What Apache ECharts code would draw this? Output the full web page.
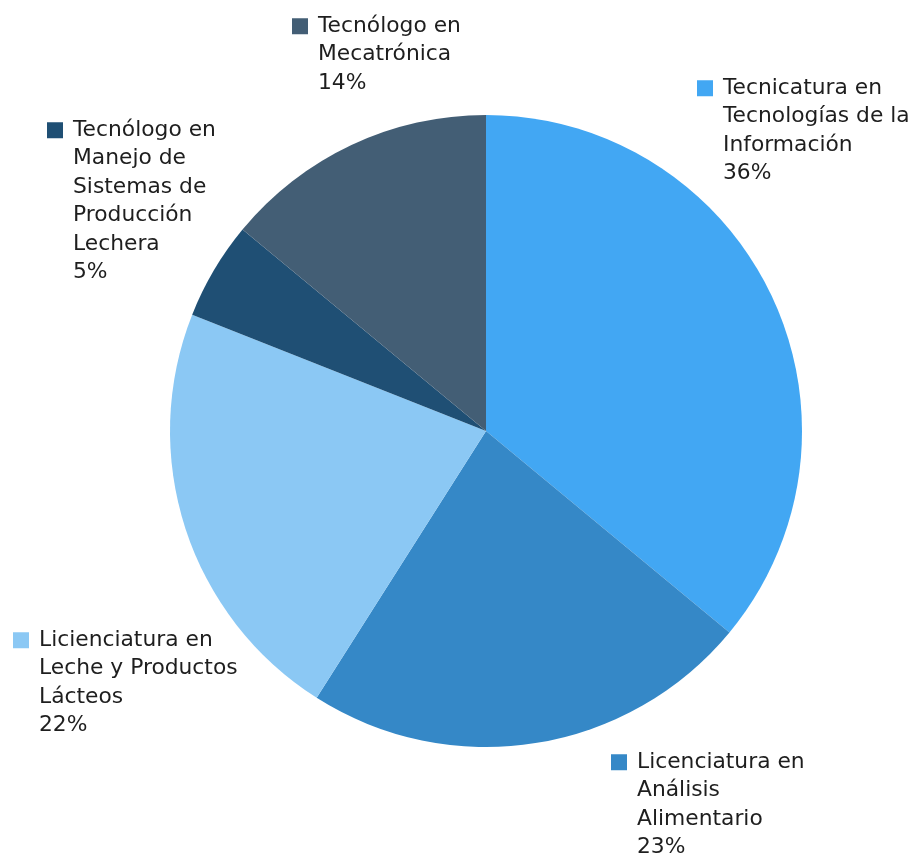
<!DOCTYPE html>
<html>
<head>
<meta charset="utf-8">
<script src="https://cdn.jsdelivr.net/npm/echarts@6/dist/echarts.min.js"></script>
<style>
  html, body { margin: 0; padding: 0; background: #fff; }
  #chart { width: 911px; height: 857px; }
</style>
</head>
<body>
<div id="chart"></div>
<script>
// datos
var categories = [
  'Tecnicatura en\nTecnologías de la\nInformación',
  'Licenciatura en\nAnálisis\nAlimentario',
  'Licienciatura en\nLeche y Productos\nLácteos',
  'Tecnólogo en\nManejo de\nSistemas de\nProducción\nLechera',
  'Tecnólogo en\nMecatrónica'
];
var values = [36, 23, 22, 5, 14];
var colors = ['#42a7f3', '#3588c7', '#8bc8f4', '#1f4f74', '#435e75'];

// posicion de cada etiqueta (esquina sup. izq.)
var labelPos = [[697, 74], [611, 748], [13, 626], [47, 116], [292, 12]];

var chart = echarts.init(document.getElementById('chart'));

var rich = {
  t: { fontFamily: 'DejaVu Sans', fontSize: 21.8, color: '#1e1e1e', lineHeight: 28.5 },
  g: { width: 10, lineHeight: 28.5 },
  sp: { width: 26, lineHeight: 28.5 }
};
colors.forEach(function (c, i) {
  rich['sq' + i] = { width: 16, height: 16, backgroundColor: c, lineHeight: 28.5 };
});

var data = categories.map(function (name, i) {
  return { name: name, value: values[i], itemStyle: { color: colors[i] } };
});

chart.setOption({
  animation: false,
  series: [{
    type: 'pie',
    center: [486, 431],
    radius: 316,
    startAngle: 90,
    clockwise: true,
    avoidLabelOverlap: false,
    data: data,
    itemStyle: { borderWidth: 0 },
    label: {
      show: true,
      position: 'outside',
      formatter: function (p) {
        var lines = p.name.split('\n');
        lines.push(p.value + '%');
        return lines.map(function (l, k) {
          return (k === 0 ? '{sq' + p.dataIndex + '|}{g|}' : '{sp|}') + '{t|' + l + '}';
        }).join('\n');
      },
      rich: rich
    },
    labelLine: { show: false },
    labelLayout: function (params) {
      var pos = labelPos[params.dataIndex];
      return { x: pos[0], y: pos[1], align: 'left', verticalAlign: 'top' };
    }
  }]
});
</script>
</body>
</html>
